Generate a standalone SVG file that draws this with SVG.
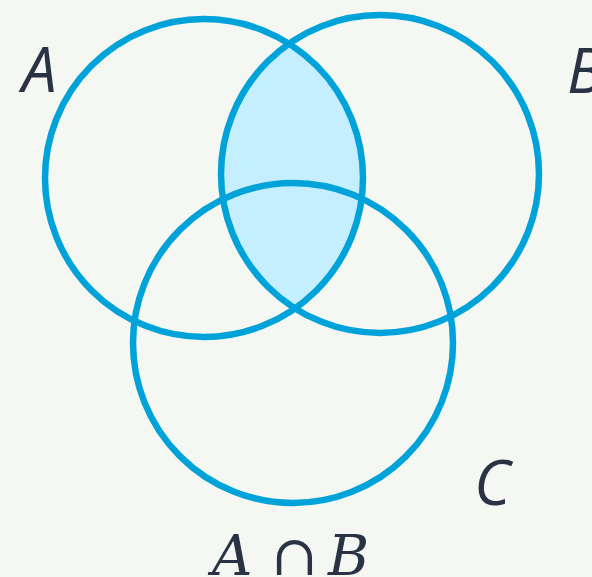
<svg xmlns="http://www.w3.org/2000/svg" width="592" height="577" viewBox="0 0 592 577">
<style>
.c{fill:none;stroke:#00a2da;stroke-width:6.5}
.lbl{font-family:"Open Sans",sans-serif;font-style:italic;font-weight:500;font-size:62px;fill:#2a3344}
.math{font-family:"DejaVu Serif",serif;font-style:italic;font-size:56px;fill:#2a3344}
</style>
<defs>
<clipPath id="clipA"><circle cx="204" cy="178" r="159"/></clipPath>
</defs>
<rect width="592" height="577" fill="#f5f7f3"/>
<g id="shade"><circle cx="380" cy="174" r="159" fill="#c5effe" clip-path="url(#clipA)"/></g>
<g id="setA"><circle class="c" cx="204" cy="178" r="159"/><text class="lbl" x="22" y="92">A</text></g>
<g id="setB"><circle class="c" cx="380" cy="174" r="159"/><text class="lbl" x="567" y="93">B</text></g>
<g id="setC"><circle class="c" cx="293" cy="343" r="160"/><text class="lbl" x="474" y="505">C</text></g>
<g id="caption"><text class="math" y="575"><tspan x="212">A</tspan><tspan x="271" font-style="normal">∩</tspan><tspan x="328">B</tspan></text></g>
</svg>
